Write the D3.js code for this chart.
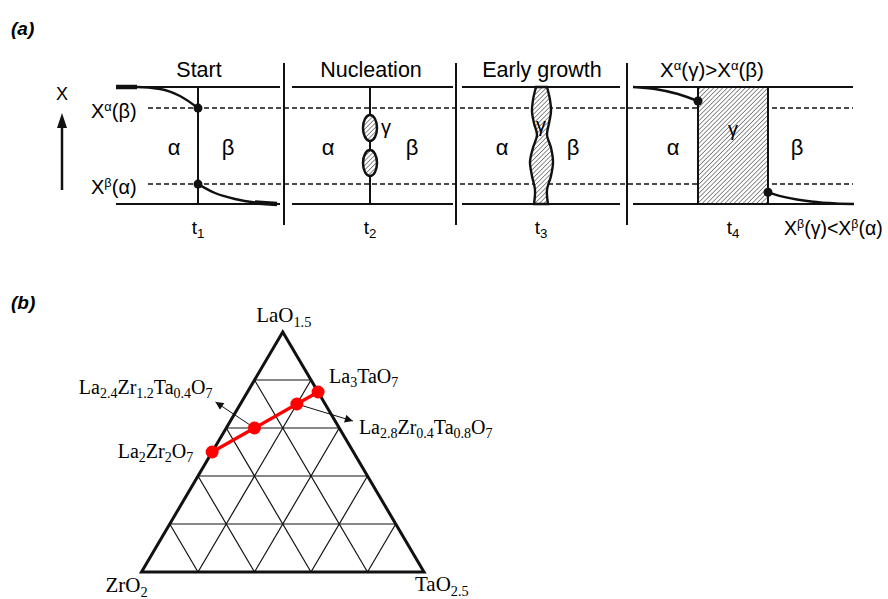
<!DOCTYPE html>
<html>
<head>
<meta charset="utf-8">
<script src="https://cdn.jsdelivr.net/npm/d3@7"></script>
<style>
  body { margin: 0; background: #fff; }
  svg { display: block; }
</style>
</head>
<body>
<div id="chart"></div>
<script>
// ---- data: panel (a), phase evolution
var stageTitles = ["Start", "Nucleation", "Early growth", "X^{α}(γ)>X^{α}(β)"];
var stageTimes = ["t_{1}", "t_{2}", "t_{3}", "t_{4}"];
var levelLabels = ["X^{α}(β)", "X^{β}(α)"];
var levelValues = [0.82, 0.17];                 // equilibrium compositions
var startTop = [[-82, 1], [-61, 1], [-38, 0.983], [-18, 0.923], [0, 0.82]];
var startBottom = [[0, 0.17], [17, 0.094], [37, 0.043], [57, 0.013], [79, 0]];
var nucleiCentres = [0.65, 0.35];
var growthShape = [[1, -5, 6], [0.89, -8, 9], [0.79, -9, 10], [0.69, -7, 8], [0.59, -4, 6],
                   [0.48, -8, 10], [0.36, -11, 12], [0.24, -9, 10], [0.12, -6, 6], [0, -7, 7]];
var lateTop = [[-65, 1], [-43, 0.983], [-20, 0.94], [0, 0.88]];
var lateBottom = [[0, 0.10], [18, 0.056], [43, 0.021], [68, 0.004], [86, 0]];

// ---- data: panel (b), ternary diagram
var vertices = ["LaO_{1.5}", "ZrO_{2}", "TaO_{2.5}"];
var compounds = ["La_{2}Zr_{2}O_{7}", "La_{2.4}Zr_{1.2}Ta_{0.4}O_{7}", "La_{2.8}Zr_{0.4}Ta_{0.8}O_{7}", "La_{3}TaO_{7}"];
var laFrac = [0.5, 0.6, 0.7, 0.75];
var zrFrac = [0.5, 0.3, 0.1, 0];
var taFrac = [0, 0.1, 0.2, 0.25];
var gridSteps = [0.2, 0.4, 0.6, 0.8];

var width = 888, height = 599;
var svg = d3.select("#chart").append("svg")
  .attr("width", width)
  .attr("height", height);

var sans = "'Liberation Sans', Arial, sans-serif";
var serif = "'Liberation Serif', 'Times New Roman', serif";

// text with ^{sup} and _{sub}
function richText (g, x, y, str, size, anchor, family, ratio) {
  ratio = ratio || 0.64;
  var t = g.append("text")
    .attr("x", x).attr("y", y)
    .attr("font-size", size)
    .attr("font-family", family)
    .attr("text-anchor", anchor || "start");
  var re = /([\^_])\{([^}]*)\}|([^\^_]+)/g;
  var m, off = 0;
  while ((m = re.exec(str))) {
    if (m[3]) {
      t.append("tspan").attr("dy", -off).text(m[3]);
      off = 0;
    } else {
      var d = m[1] === "^" ? -size * 0.36 : size * 0.22;
      t.append("tspan").attr("dy", d - off).attr("font-size", size * ratio).text(m[2]);
      off = d;
    }
  }
  return t;
}

// hatch pattern
var defs = svg.append("defs");
var pat = defs.append("pattern")
  .attr("id", "hatch")
  .attr("patternUnits", "userSpaceOnUse")
  .attr("width", 3.2).attr("height", 3.2)
  .attr("patternTransform", "rotate(45)");
pat.append("rect").attr("width", 3.2).attr("height", 3.2).attr("fill", "#fff");
pat.append("line").attr("x1", 0).attr("y1", 0).attr("x2", 0).attr("y2", 3.2)
  .attr("stroke", "#333").attr("stroke-width", 1.1);

defs.append("marker")
  .attr("id", "arrow")
  .attr("viewBox", "0 0 10 10")
  .attr("refX", 10).attr("refY", 5)
  .attr("markerWidth", 11).attr("markerHeight", 8)
  .attr("markerUnits", "userSpaceOnUse")
  .attr("orient", "auto")
  .append("path").attr("d", "M0,0L10,5L0,10Z").attr("fill", "#111");

// ================= panel (a)
svg.append("text")
  .attr("x", 11).attr("y", 35)
  .attr("font-family", sans).attr("font-weight", "bold").attr("font-style", "italic")
  .attr("font-size", 19).text("(a)");

var a = svg.append("g");
var yComp = d3.scaleLinear().domain([0, 1]).range([204, 87]);
var xDist = d3.scaleLinear().domain([0, 1]).range([0, 1]);

var separators = [284, 456, 627];
var segments = [[116, 280], [292, 453], [462, 620], [633, 853]];
var centres = [198, 370, 541, 733];
var rectEdges = [698, 768];

// separators
a.selectAll(".sep").data(separators).enter().append("line")
  .attr("x1", function (d) { return d; }).attr("x2", function (d) { return d; })
  .attr("y1", 63).attr("y2", 225)
  .attr("stroke", "#111").attr("stroke-width", 2);

// dashed equilibrium levels
a.selectAll(".lvl").data(levelValues).enter().append("line")
  .attr("x1", 148).attr("x2", 853)
  .attr("y1", function (d) { return yComp(d); }).attr("y2", function (d) { return yComp(d); })
  .attr("stroke", "#111").attr("stroke-width", 1.5).attr("stroke-dasharray", "5,3");

// solid boundary lines (composition 0 and 1)
segments.forEach(function (s) {
  [0, 1].forEach(function (c) {
    a.append("line")
      .attr("x1", s[0]).attr("x2", s[1])
      .attr("y1", yComp(c)).attr("y2", yComp(c))
      .attr("stroke", "#111").attr("stroke-width", 1.8);
  });
});

// interfaces in panels 1 and 2
[0, 1].forEach(function (i) {
  a.append("line")
    .attr("x1", centres[i]).attr("x2", centres[i])
    .attr("y1", yComp(1)).attr("y2", yComp(0))
    .attr("stroke", "#111").attr("stroke-width", 2);
});

function profile (pts, x0, wide) {
  var line = d3.line()
    .x(function (d) { return x0 + xDist(d[0]); })
    .y(function (d) { return yComp(d[1]); })
    .curve(d3.curveMonotoneX);
  a.append("path").attr("d", line(pts))
    .attr("fill", "none").attr("stroke", "#111").attr("stroke-width", 2.4);
  if (wide) {
    var end = wide === "start" ? pts.slice(0, 2) : pts.slice(-2);
    a.append("path").attr("d", line(end))
      .attr("fill", "none").attr("stroke", "#111").attr("stroke-width", 4.5);
  }
}
profile(startTop, centres[0], "start");
profile(startBottom, centres[0], "end");
profile(lateTop, rectEdges[0], null);
profile(lateBottom, rectEdges[1], null);

// nuclei
a.selectAll(".nuc").data(nucleiCentres).enter().append("ellipse")
  .attr("cx", centres[1]).attr("cy", function (d) { return yComp(d); })
  .attr("rx", 7).attr("ry", 13)
  .attr("fill", "url(#hatch)").attr("stroke", "#111").attr("stroke-width", 2.5);

// early growth
var growthArea = d3.area()
  .y(function (d) { return yComp(d[0]); })
  .x0(function (d) { return centres[2] + d[1]; })
  .x1(function (d) { return centres[2] + d[2]; })
  .curve(d3.curveCatmullRom);
a.append("path").attr("d", growthArea(growthShape))
  .attr("fill", "url(#hatch)").attr("stroke", "#111").attr("stroke-width", 2.4);

// grown gamma
a.append("rect")
  .attr("x", rectEdges[0]).attr("width", rectEdges[1] - rectEdges[0])
  .attr("y", yComp(1)).attr("height", yComp(0) - yComp(1))
  .attr("fill", "url(#hatch)").attr("stroke", "#111").attr("stroke-width", 2);

// dots
var dots = [[centres[0], levelValues[0]], [centres[0], levelValues[1]],
            [rectEdges[0], lateTop[lateTop.length - 1][1]], [rectEdges[1], lateBottom[0][1]]];
a.selectAll(".dot").data(dots).enter().append("circle")
  .attr("cx", function (d) { return d[0]; })
  .attr("cy", function (d) { return yComp(d[1]); })
  .attr("r", 4.5).attr("fill", "#111");

// titles and times
stageTitles.forEach(function (s, i) {
  var x = i === 3 ? 712 : centres[i] + 1;
  richText(a, x, 77, s, i === 3 ? 20.5 : 21.5, "middle", sans);
  richText(a, centres[i], 234, stageTimes[i], 19, "middle", sans, 0.7);
});
richText(a, 784, 235, "X^{β}(γ)<X^{β}(α)", 19.5, "start", sans);

// axis arrow and level labels
a.append("text").attr("x", 62).attr("y", 100).attr("text-anchor", "middle")
  .attr("font-family", sans).attr("font-size", 18).text("X");
a.append("line").attr("x1", 62).attr("x2", 62).attr("y1", 190).attr("y2", 126)
  .attr("stroke", "#111").attr("stroke-width", 2.5);
a.append("path").attr("d", "M62,113L57,128L67,128Z").attr("fill", "#111");
levelLabels.forEach(function (s, i) {
  richText(a, 91, yComp(levelValues[i]) + 10, s, 20, "start", sans);
});

// phase labels
var phaseX = [[174, 228], [328, 412], [502, 573], [673, 797]];
phaseX.forEach(function (p) {
  a.append("text").attr("x", p[0]).attr("y", 155).attr("text-anchor", "middle")
    .attr("font-family", sans).attr("font-size", 22).text("α");
  a.append("text").attr("x", p[1]).attr("y", 155).attr("text-anchor", "middle")
    .attr("font-family", sans).attr("font-size", 22).text("β");
});
[[386, 134], [541, 132], [733, 136]].forEach(function (p) {
  a.append("text").attr("x", p[0]).attr("y", p[1]).attr("text-anchor", "middle")
    .attr("font-family", sans).attr("font-size", 20).text("γ");
});

// ================= panel (b)
svg.append("text")
  .attr("x", 11).attr("y", 309)
  .attr("font-family", sans).attr("font-weight", "bold").attr("font-style", "italic")
  .attr("font-size", 19).text("(b)");

var b = svg.append("g");
var xBase = d3.scaleLinear().domain([0, 1]).range([141.5, 424]);
var yLa = d3.scaleLinear().domain([0, 1]).range([572, 332]);
function tern (la, ta) { return [xBase(ta + la / 2), yLa(la)]; }

// grid lines
var gridLines = [];
gridSteps.forEach(function (v) {
  gridLines.push([tern(v, 0), tern(v, 1 - v)]);       // constant La
  gridLines.push([tern(0, v), tern(1 - v, v)]);       // constant Ta
  gridLines.push([tern(0, 1 - v), tern(1 - v, 0)]);   // constant Zr
});
b.selectAll(".grid").data(gridLines).enter().append("line")
  .attr("x1", function (d) { return d[0][0]; }).attr("y1", function (d) { return d[0][1]; })
  .attr("x2", function (d) { return d[1][0]; }).attr("y2", function (d) { return d[1][1]; })
  .attr("stroke", "#111").attr("stroke-width", 1.2);

var corners = [tern(1, 0), tern(0, 0), tern(0, 1)];
b.append("path")
  .attr("d", "M" + corners.map(function (c) { return c.join(","); }).join("L") + "Z")
  .attr("fill", "none").attr("stroke", "#111").attr("stroke-width", 3)
  .attr("stroke-linejoin", "miter");

// vertex labels
richText(b, corners[0][0] + 1, corners[0][1] - 10, vertices[0], 21, "middle", serif, 0.68);
richText(b, corners[1][0] - 36, corners[1][1] + 20, vertices[1], 21, "start", serif, 0.68);
richText(b, corners[2][0] - 9, corners[2][1] + 19, vertices[2], 21, "start", serif, 0.68);

var pts = compounds.map(function (c, i) { return tern(laFrac[i], taFrac[i]); });

// arrows to labels
var arrowEnds = [null, [-39, -26], [56, 17], null];
pts.forEach(function (p, i) {
  if (!arrowEnds[i]) return;
  b.append("line")
    .attr("x1", p[0]).attr("y1", p[1])
    .attr("x2", p[0] + arrowEnds[i][0]).attr("y2", p[1] + arrowEnds[i][1])
    .attr("stroke", "#111").attr("stroke-width", 1)
    .attr("marker-end", "url(#arrow)");
});

b.append("path")
  .attr("d", d3.line()(pts))
  .attr("fill", "none").attr("stroke", "#f00").attr("stroke-width", 3.2);
b.selectAll(".pt").data(pts).enter().append("circle")
  .attr("cx", function (d) { return d[0]; }).attr("cy", function (d) { return d[1]; })
  .attr("r", 6.5).attr("fill", "#f00");

var labelOff = [[-19, 6, "end"], [-42, -34, "end"], [62, 30, "start"], [11, -9, "start"]];
compounds.forEach(function (c, i) {
  richText(b, pts[i][0] + labelOff[i][0], pts[i][1] + labelOff[i][1], c, 20, labelOff[i][2], serif, 0.7);
});
</script>
</body>
</html>
